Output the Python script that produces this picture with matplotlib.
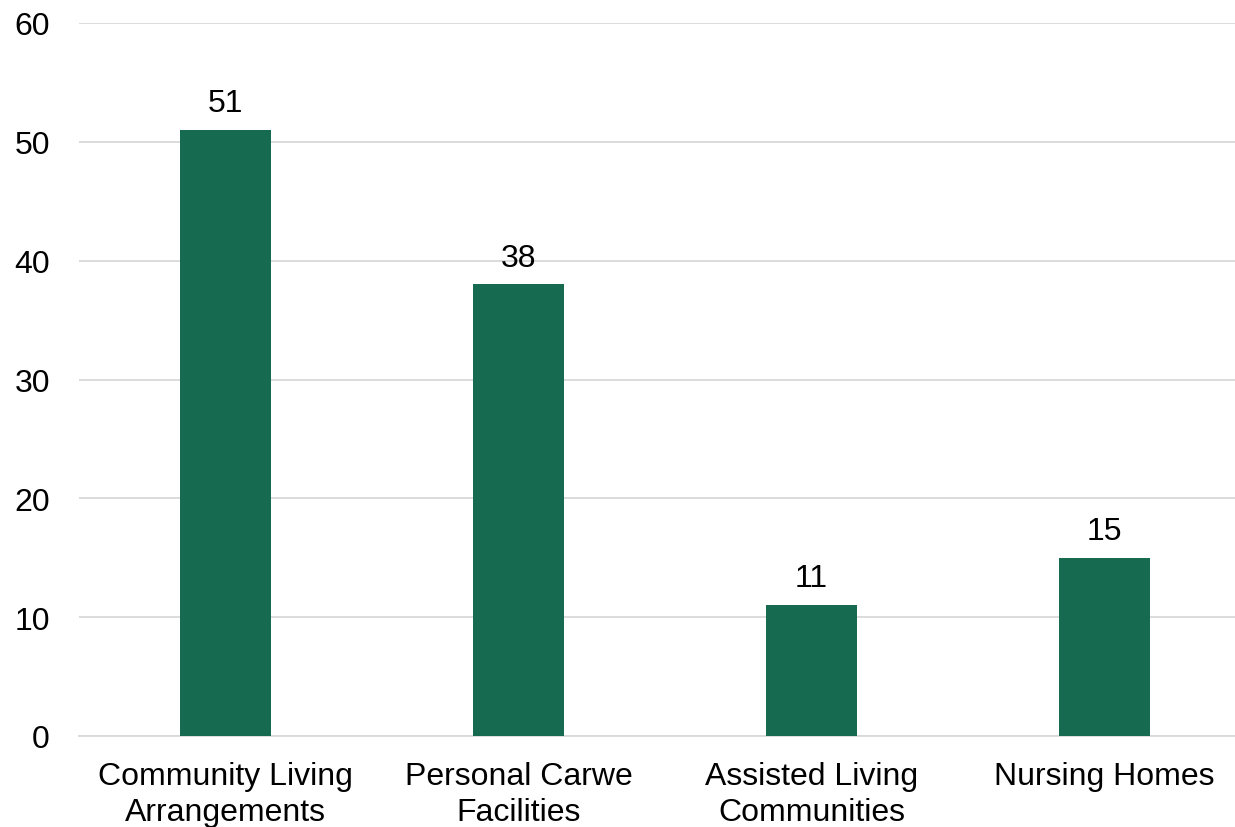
import matplotlib.pyplot as plt

categories = ['Community Living\nArrangements', 'Personal Carwe\nFacilities',
              'Assisted Living\nCommunities', 'Nursing Homes']
values = [51, 38, 11, 15]
yticks = [0, 10, 20, 30, 40, 50, 60]

plt.rcParams['font.family'] = ['Liberation Sans', 'DejaVu Sans']

fig = plt.figure(figsize=(12.35, 8.28), dpi=100)
# axes spans a bit past the right edge, like the original
ax = fig.add_axes([79 / 1235, 91 / 828, 1172 / 1235, 713 / 828])

x = range(len(categories))
bars = ax.bar(x, values, width=0.31, color='#156A4F', zorder=3)
for b, v in zip(bars, values):
    ax.text(b.get_x() + b.get_width() / 2, v + 1.0, str(v),
            ha='center', va='bottom', fontsize=23, color='black')

ax.set_xlim(-0.5, len(categories) - 0.5)
ax.set_ylim(0, 60)
ax.set_yticks(yticks)
ax.set_xticks(list(x))
ax.set_xticklabels(categories, fontsize=23, linespacing=1.25)
ax.tick_params(axis='y', labelsize=23, length=0, pad=21)
ax.tick_params(axis='x', length=0, pad=18)
ax.grid(axis='y', color='#d9d9d9', linewidth=1.3, zorder=0)
for s in ['top', 'right', 'left']:
    ax.spines[s].set_visible(False)
ax.spines['bottom'].set_color('#d9d9d9')
ax.spines['bottom'].set_linewidth(1.3)

fig.savefig('out.png', dpi=100)
